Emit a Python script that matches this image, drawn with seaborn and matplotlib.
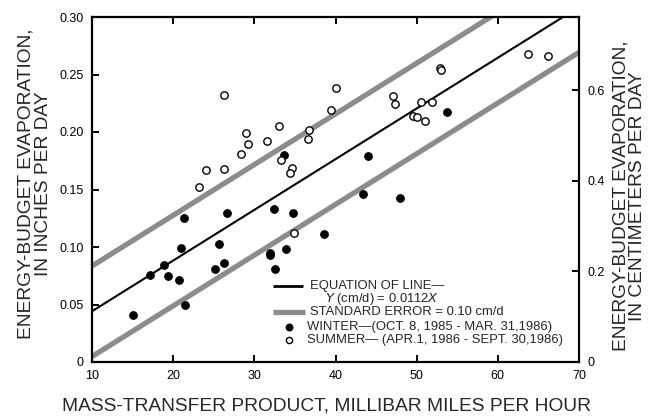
import numpy as np
import pandas as pd
import matplotlib
matplotlib.use("Agg")
import matplotlib.pyplot as plt
import seaborn as sns

# Mass-transfer product (mb mi/h) and energy-budget evaporation (in/d)
winter_x = [33.7, 44.0, 53.7, 43.4, 48.0, 32.4, 34.8, 38.6, 31.9, 31.9, 33.9,
            21.3, 26.6, 21.0, 25.7, 18.9, 17.2, 19.4, 20.7, 25.1, 26.3, 32.6,
            21.5, 15.1]
winter_y = [0.180, 0.179, 0.217, 0.146, 0.143, 0.133, 0.130, 0.111, 0.095,
            0.093, 0.098, 0.125, 0.130, 0.099, 0.103, 0.084, 0.076, 0.075,
            0.071, 0.081, 0.086, 0.081, 0.050, 0.041]

summer_x = [26.3, 29.0, 29.2, 33.1, 31.6, 28.4, 24.0, 26.3, 23.2, 36.7, 36.6,
            33.3, 34.7, 34.4, 40.1, 39.5, 47.1, 47.3, 50.5, 51.9, 49.5, 50.1,
            51.0, 52.9, 53.0, 63.7, 66.2, 34.9]
summer_y = [0.232, 0.199, 0.190, 0.205, 0.192, 0.181, 0.167, 0.168, 0.152,
            0.202, 0.194, 0.176, 0.169, 0.164, 0.238, 0.219, 0.231, 0.224,
            0.226, 0.226, 0.214, 0.213, 0.210, 0.256, 0.254, 0.268, 0.266,
            0.112]

# Regression line Y (cm/d) = 0.0112 X, standard error 0.10 cm/d
slope_cm = 0.0112
std_err_cm = 0.10
CM_PER_IN = 2.54

x_ticks = [10, 20, 30, 40, 50, 60, 70]
y_ticks = [0, 0.05, 0.10, 0.15, 0.20, 0.25, 0.30]
y_tick_labels = ["0", "0.05", "0.10", "0.15", "0.20", "0.25", "0.30"]
cm_ticks = [0, 0.2, 0.4, 0.6]
cm_tick_labels = ["0", "0.2", "0.4", "0.6"]

sns.set_theme(style="white")
plt.rcParams["font.family"] = ["Liberation Sans", "DejaVu Sans"]
plt.rcParams["axes.linewidth"] = 1.6
plt.rcParams["xtick.bottom"] = True
plt.rcParams["ytick.left"] = True

fig = plt.figure(figsize=(6.55, 4.18), dpi=100)
ax = fig.add_axes([92 / 655, 1 - 362 / 418, (579 - 92) / 655, (362 - 17) / 418])

pts = pd.concat([
    pd.DataFrame({"x": winter_x, "y": winter_y, "season": "winter"}),
    pd.DataFrame({"x": summer_x, "y": summer_y, "season": "summer"}),
])

xs = np.array([x_ticks[0], x_ticks[-1]], dtype=float)
fit_in = slope_cm * xs / CM_PER_IN
se_in = std_err_cm / CM_PER_IN
lines = pd.DataFrame({"x": xs, "fit": fit_in,
                      "upper": fit_in + se_in, "lower": fit_in - se_in})

gray = "#8c8c8c"
sns.lineplot(data=lines, x="x", y="upper", color=gray, lw=3.8, ax=ax,
             solid_capstyle="butt")
sns.lineplot(data=lines, x="x", y="lower", color=gray, lw=3.8, ax=ax,
             solid_capstyle="butt")
sns.lineplot(data=lines, x="x", y="fit", color="black", lw=1.5, ax=ax)

sns.scatterplot(data=pts[pts.season == "winter"], x="x", y="y", ax=ax,
                color="black", edgecolor="black", s=30, linewidth=0.8,
                zorder=5, legend=False)
sns.scatterplot(data=pts[pts.season == "summer"], x="x", y="y", ax=ax,
                color="white", edgecolor="black", s=28, linewidth=1.0,
                zorder=5, legend=False)

ax.set_xlim(10, 70)
ax.set_ylim(0, 0.30)
ax.set_xticks(x_ticks)
ax.set_yticks(y_ticks)
ax.set_yticklabels(y_tick_labels)
ax.set_xlabel("")
ax.set_ylabel("")
ax.tick_params(axis="both", direction="in", length=5, width=1.4,
               labelsize=9, colors="black", pad=6)
ax.tick_params(axis="x", top=True, bottom=True)
ax.tick_params(axis="y", left=True, right=False)
for s in ax.spines.values():
    s.set_color("black")
    s.set_linewidth(1.6)

ax2 = ax.twinx()
ax2.set_ylim(0, 0.30 * CM_PER_IN)
ax2.set_yticks(cm_ticks)
ax2.set_yticklabels(cm_tick_labels)
ax2.tick_params(axis="y", right=True, direction="in", length=5, width=1.4,
                labelsize=9, colors="black", pad=6)
ax2.grid(False)
for s in ax2.spines.values():
    s.set_visible(False)

fs = 13.8
fig.text(35 / 655, 1 - 184 / 418, "ENERGY-BUDGET EVAPORATION,\nIN INCHES PER DAY",
         rotation=90, ha="center", va="center", multialignment="center",
         fontsize=fs, linespacing=1.0)
fig.text(629 / 655, 1 - 196 / 418,
         "ENERGY-BUDGET EVAPORATION,\nIN CENTIMETERS PER DAY",
         rotation=90, ha="center", va="center", multialignment="center",
         fontsize=fs, linespacing=1.0)
fig.text(0.4992, 1 - 406 / 418, "MASS-TRANSFER PRODUCT, MILLIBAR MILES PER HOUR",
         ha="center", va="center", fontsize=fs)

# Key in the lower right of the plot
def fx(px):
    return (px - 92) / (579 - 92)

def fy(py):
    return (362 - py) / (362 - 17)

lf = 9.4
tr = ax.transAxes
ax.plot([fx(273), fx(303)], [fy(286), fy(286)], color="black", lw=2,
        transform=tr, solid_capstyle="butt")
ax.text(fx(310), fy(286), "EQUATION OF LINE\u2014", transform=tr,
        ha="left", va="center", fontsize=lf)
ax.text(fx(325), fy(299), "$\\mathit{Y}$ (cm/d) = 0.0112$\\mathit{X}$",
        transform=tr, ha="left", va="center", fontsize=lf)
ax.plot([fx(273), fx(305)], [fy(312), fy(312)], color=gray, lw=3.8,
        transform=tr, solid_capstyle="butt")
ax.text(fx(310), fy(312), "STANDARD ERROR = 0.10 cm/d", transform=tr,
        ha="left", va="center", fontsize=lf)
ax.scatter([fx(289)], [fy(327)], s=22, color="black", transform=tr, zorder=5)
ax.text(fx(307), fy(327), "WINTER\u2014(OCT. 8, 1985 - MAR. 31,1986)",
        transform=tr, ha="left", va="center", fontsize=lf)
ax.scatter([fx(289)], [fy(340)], s=20, facecolor="white", edgecolor="black",
           linewidth=1.0, transform=tr, zorder=5)
ax.text(fx(307), fy(340), "SUMMER\u2014 (APR.1, 1986 - SEPT. 30,1986)",
        transform=tr, ha="left", va="center", fontsize=lf)

fig.savefig("out.png", dpi=100)
